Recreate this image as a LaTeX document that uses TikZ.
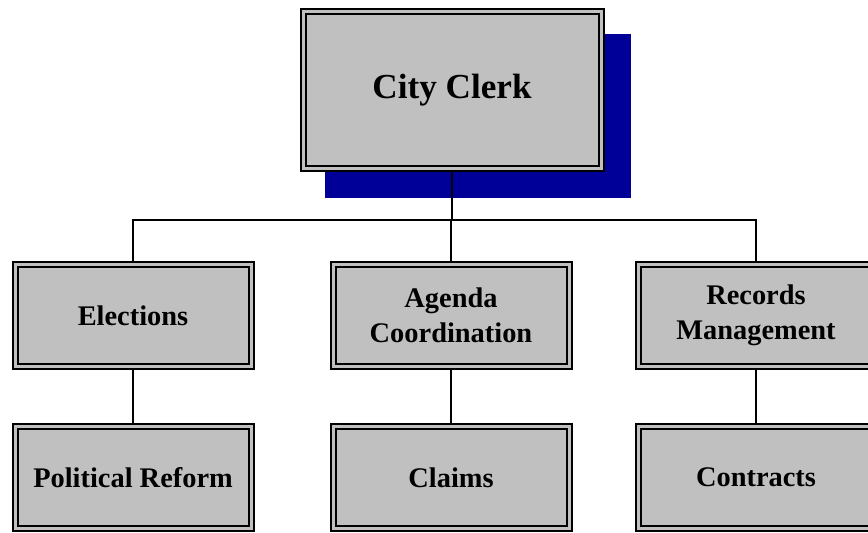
\documentclass[tikz,border=0pt]{standalone}
\usepackage{fontspec}
\setmainfont{Liberation Serif}
\usetikzlibrary{positioning,backgrounds}

\definecolor{boxgray}{RGB}{192,192,192}
\definecolor{shadowblue}{RGB}{0,0,153}

\begin{document}
\begin{tikzpicture}[
  font=\bfseries,
  box/.style={draw, fill=boxgray, line width=0.05cm, double=boxgray, double distance=0.075cm,
    outer sep=0.0875cm, minimum width=5.9cm, minimum height=2.55cm, align=center,
    font=\bfseries\fontsize{20.2}{25}\selectfont},
  topbox/.style={box, minimum width=7.45cm, minimum height=3.925cm,
    font=\bfseries\fontsize{25}{30}\selectfont},
  link/.style={line width=1.4pt},
  node distance=2.225cm and 1.875cm
]
\useasboundingbox (0,0) rectangle (21.7,-13.3);
\clip (0,0) rectangle (21.7,-13.3);

% ---------- TOP ----------
\node[topbox] (clerk) at (11.3,-2.25) {City Clerk};
\begin{scope}[on background layer]
  \fill[shadowblue] ([xshift=0.625cm, yshift=-0.65cm]clerk.south west)
    rectangle ([xshift=0.65cm, yshift=-0.65cm]clerk.north east);
\end{scope}

% ---------- FIRST ROW ----------
\node[box, below=of clerk, xshift=-0.025cm] (agenda) {Agenda\\Coordination};
\node[box, left=of agenda] (elect) {Elections};
\node[box, right=1.55cm of agenda] (records) {Records\\Management};

\path (clerk.south) ++(0,-1.2) coordinate (bus);
\draw[link] (clerk) -- (bus);
\draw[link] (elect.north) |- (bus) -| (records.north);
\draw[link] (bus -| agenda.north) -- (agenda.north);

% ---------- SECOND ROW ----------
\node[box, below=1.325cm of elect] (reform) {Political Reform};
\node[box, below=1.325cm of agenda] (claims) {Claims};
\node[box, below=1.325cm of records] (contracts) {Contracts};

\draw[link] (elect) -- (reform);
\draw[link] (agenda) -- (claims);
\draw[link] (records) -- (contracts);

\end{tikzpicture}
\end{document}
